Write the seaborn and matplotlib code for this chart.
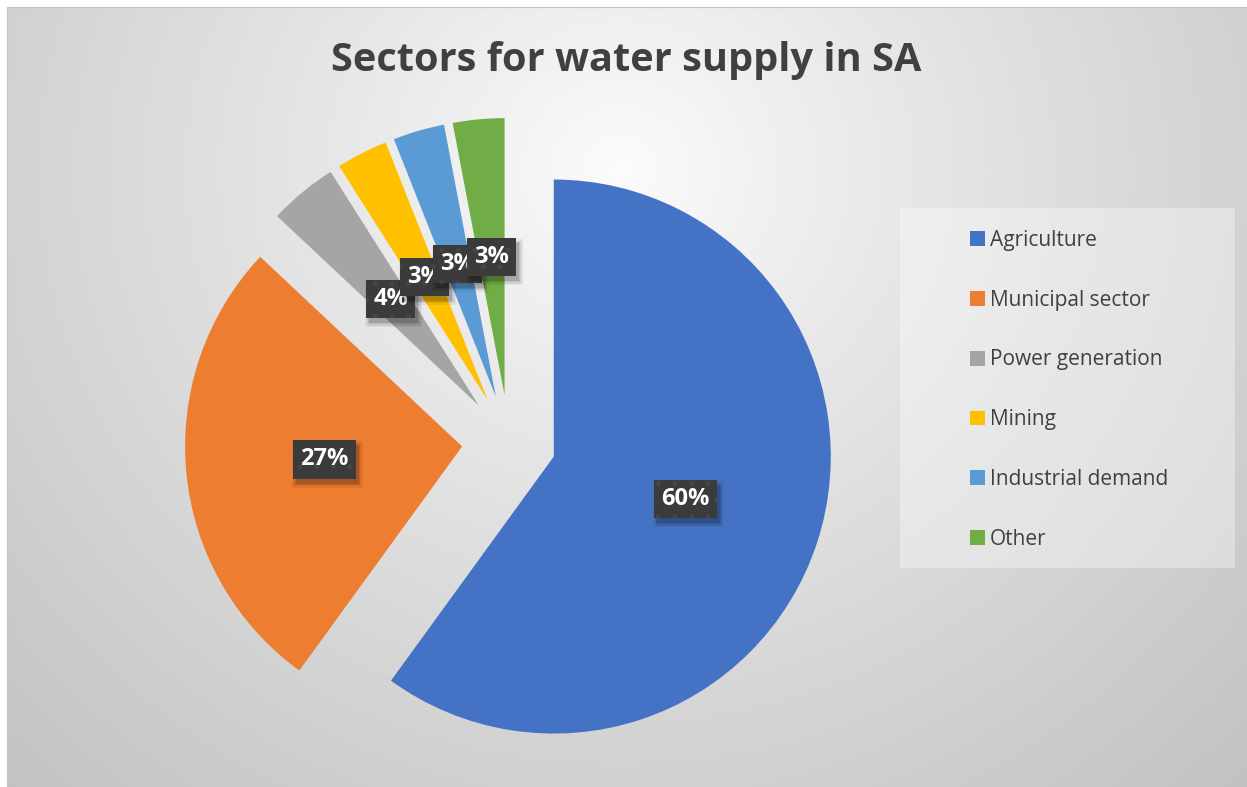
import numpy as np
import matplotlib
matplotlib.use("Agg")
import matplotlib.pyplot as plt
import matplotlib.transforms as mtransforms
from matplotlib.patches import Patch, Rectangle
import seaborn as sns

# Water use by sector (percent of total supply)
sectors = ["Agriculture", "Municipal sector", "Power generation", "Mining",
           "Industrial demand", "Other"]
shares = [60, 27, 4, 3, 3, 3]
sector_colors = ["#4472C4", "#ED7D31", "#A5A5A5", "#FFC000", "#5B9BD5", "#70AD47"]
title = "Sectors for water supply in SA"

sns.set_theme(style="white")
plt.rcParams["font.family"] = ["Open Sans", "DejaVu Sans"]
plt.rcParams["hatch.linewidth"] = 1.0
palette = sns.color_palette(sector_colors)

W, H, DPI = 1247, 787, 100
fig = plt.figure(figsize=(W / DPI, H / DPI), dpi=DPI)
fig.patch.set_facecolor("white")

# Soft radial backdrop for the chart area
bg = fig.add_axes([0, 0, 1, 1])
bg.set_axis_off()
yy, xx = np.mgrid[0:H, 0:W]
d = np.hypot(xx - 620, (yy - 170) / 0.95)
t = np.clip(d / 900, 0, 1)
v = (252 - 58 * t ** 0.9) / 255
img = np.dstack([v, v, v])
img[:7, :, :] = 1
img[:, :7, :] = 1
bg.imshow(img, extent=[0, W, H, 0], aspect="auto", interpolation="bilinear")
bg.set_xlim(0, W)
bg.set_ylim(H, 0)
bg.add_patch(Rectangle((6.5, 6.5), W - 6, H - 6, fill=False, ec="#c4c4c4", lw=0.8))

# Legend panel
bg.add_patch(Rectangle((900, 208), 335, 360, fc="white", alpha=0.35, lw=0))

# Pie axes: centre and radius in pixels
cx, cy, R = 509, 442, 277
hw, hh = 450, 330
ax = fig.add_axes([(cx - hw) / W, (H - cy - hh) / H, 2 * hw / W, 2 * hh / H])
ax.patch.set_alpha(0)

wedges, texts, autotexts = ax.pie(
    shares,
    colors=palette,
    startangle=90,
    counterclock=False,
    explode=[0.17] * len(shares),
    autopct=lambda p: f"{p:.0f}%",
    pctdistance=0.5,
    wedgeprops=dict(linewidth=0),
)
ax.set_xlim(-hw / R, hw / R)
ax.set_ylim(-hh / R, hh / R)
ax.set_aspect("equal")

for i, at in enumerate(autotexts):
    at.set_color("white")
    at.set_fontsize(17)
    at.set_fontweight("bold")
    at.set_zorder(20 + 2 * i + 1)
    at.set_bbox(dict(boxstyle="square,pad=0.3", fc="#3b3b3b", ec="#474747",
                     lw=0, hatch="."))

# Soft drop shadows under each value box
fig.canvas.draw()
ident = mtransforms.IdentityTransform()
for i, at in enumerate(autotexts):
    bb = at.get_bbox_patch().get_window_extent()
    for grow, a in [(4, 0.05), (2.5, 0.07), (1, 0.09), (0, 0.12)]:
        ax.add_patch(Rectangle((bb.x0 + 3 - grow, bb.y0 - 5 - grow),
                               bb.width + 2 * grow, bb.height + 2 * grow,
                               transform=ident, fc="black", alpha=a, lw=0,
                               zorder=20 + 2 * i, clip_on=False))

fig.text(626 / W, 1 - 71 / H, title, ha="center", va="baseline", fontsize=28.6,
         fontweight="bold", color="#404040")

handles = [Patch(facecolor=c, linewidth=0) for c in palette]
fig.legend(handles, sectors, loc="upper left",
           bbox_to_anchor=(970 / W, 1 - 230 / H), frameon=False, fontsize=15,
           handlelength=0.7, handleheight=0.7, handletextpad=0.27,
           labelspacing=1.86, borderpad=0, borderaxespad=0, labelcolor="#404040")

fig.savefig("out.png", dpi=DPI)
